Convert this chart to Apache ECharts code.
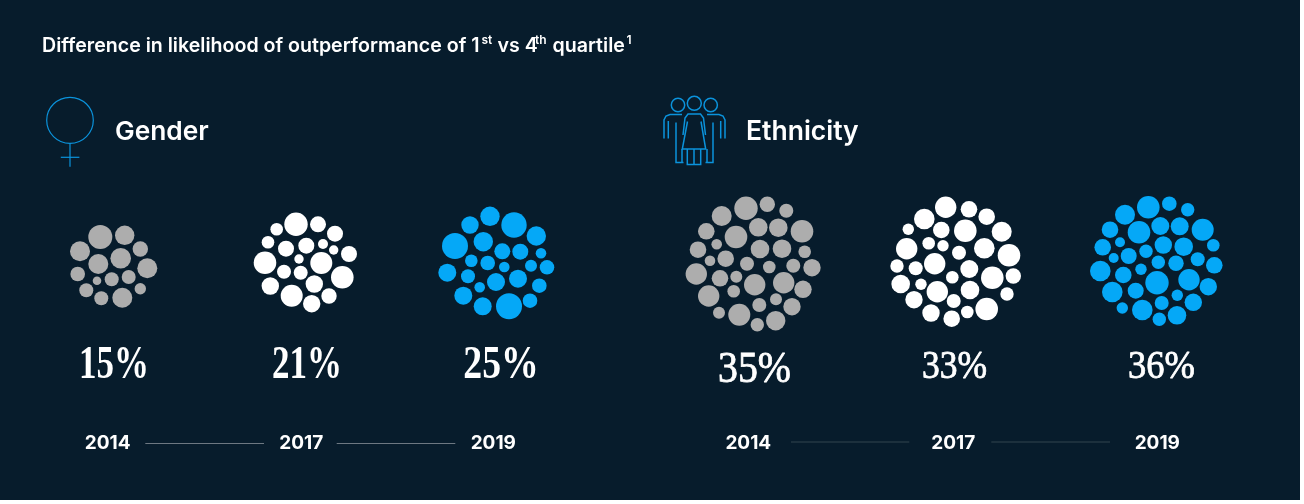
<!DOCTYPE html>
<html><head><meta charset="utf-8">
<style>html,body{margin:0;padding:0;background:#ffffff}#c{width:1300px;height:500px}</style>
<script src="https://cdn.jsdelivr.net/npm/echarts@6/dist/echarts.min.js"></script>
</head><body><div id="c"></div>
<script>
const years = ['2014','2017','2019'];
const genderPct = [15,21,25];
const ethnicityPct = [35,33,36];
// bubbles: [x, y, radius]
const gender2014 = [[100.3,237,12],[124.7,235.3,9.7],[80,251.3,10],[140.3,249,7.7],[98.3,264,10],[120.7,258.3,10.3],[147.3,268.3,10],[77.7,274,7.3],[97,280.7,4.3],[111.7,279.3,7],[128.7,277,7],[86.3,290.3,7],[140.3,288.7,5.7],[101.3,298.3,7],[122.3,297.7,10]];
const gender2017 = [[296,224.3,11.7],[318,224.3,8],[276.7,229.3,6.3],[335,233.7,8],[268,242.3,6.3],[286,248.7,8],[306.3,245.7,8],[323,244,5],[333.7,250,4.7],[349,254,8],[265,262.7,11.3],[299,259,4.7],[321.3,263,11],[284,271.7,7],[300.7,272.7,7],[342.3,277.3,11.3],[270.3,286,8.7],[314.3,284,8.7],[291.7,295.7,11],[329,296,7.7],[311.7,303.7,8.7]];
const gender2019 = [[490,216.3,9.7],[514,225,12.7],[470,225,8.7],[536.3,236,9.7],[455,246,13],[483.3,241.7,9.7],[502.3,251.3,8],[520.3,251.7,8],[541,253.3,5.3],[471.3,260.7,6.3],[487.7,263,7.3],[504.3,267,5.3],[531,265.7,6],[547,267.3,7.3],[447.3,272.7,9],[468,276.3,7],[496,282,9],[518,278.7,9],[479.7,287.3,5.3],[539.3,285.7,7.3],[463.3,295.7,9],[482.7,306.3,9],[509,306.3,13],[530,300.7,7.3]];
const ethnicity2014 = [[746,208.3,11.7],[767.3,204.3,7.7],[786.3,210.7,7],[721.7,216,10],[758.3,227.3,9.3],[778.3,227.7,9.3],[802,231.3,11.3],[706.3,231.3,8.3],[736,237,11.3],[716.7,244.3,5.3],[698,249.7,8.3],[760,249,9.3],[782,248.7,9.3],[804.7,251.7,6.3],[725.7,258.7,8.3],[710,260.7,5.3],[747,263.7,7],[769.3,267,6.3],[793.3,265.7,7],[812,267.7,8.7],[696.3,274,10.7],[720,278.3,8.3],[736.3,276.7,6],[754.7,284.7,10.7],[783.7,282.7,10.7],[803,289.3,8.7],[708.7,296,10.7],[733.7,291.3,6.3],[776,299.3,6],[759.3,305,7],[792,306.7,8.7],[719,312.7,6],[739.3,314.7,11],[757.3,324.7,6.7],[775.7,320.7,9.7]];
const ethnicity2017 = [[945.7,207.3,10.7],[969,209.3,8.3],[986.7,216.7,8.3],[924.3,219,10.3],[941.3,230,8.3],[965.3,230.7,11.3],[1001.7,231.7,10],[908.3,229.3,5.7],[928.7,243.3,6.3],[943,245.7,5.7],[906.7,248.7,10.7],[959,252.7,7],[984.3,248.3,10.3],[1009,255.3,11.3],[897,266,6.7],[915.7,268.3,7],[934.7,263.7,10.7],[969.3,269,9],[992.3,277.7,11.3],[1013.3,276,7.7],[952.3,277.3,6.3],[900.7,284,9.3],[921,284.3,5.7],[937.3,291.7,10.7],[970,290,9.3],[1007,294,6.7],[914,299.7,8.7],[953.7,301,7],[931,313,8.7],[967.3,312,6.3],[986.7,309,11.3],[951.7,318.7,8.3]];
const ethnicity2019 = [[1148.3,207.3,11.3],[1169.3,203.7,7.3],[1187.7,209.7,6.7],[1125,214.7,10],[1160.3,226,9],[1179.7,226.3,9],[1202.7,229.7,11],[1110,229.7,8.3],[1139,232.3,11.3],[1120,242.3,5],[1102.7,247.3,8.3],[1163.3,245,8.7],[1183.7,246.7,9.3],[1213.3,245.3,6.3],[1146,251.3,6.7],[1128.7,256,8],[1113.7,258,5],[1197.7,259.3,7],[1158.3,262.3,6.7],[1176,263.3,7.7],[1214.3,265.3,8.3],[1100.3,271,10.3],[1123.3,275,8.3],[1141,269.3,5.7],[1157,282.7,11.7],[1189,279.7,10.7],[1208.3,286.7,8.7],[1112.3,292,10.3],[1135.7,290.7,8],[1177.3,295.3,5.7],[1193.3,302.3,8.7],[1161.7,303,7],[1122.3,308,5.7],[1142.3,310,10.3],[1177,315.3,9.3],[1159.3,319.3,6.7]];

const GREY='#adadad', WHITE='#ffffff', BLUE='#05a8f7', BG='#071c2c', ICON='#0b93dc';
const SANS='Inter, "Liberation Sans", sans-serif', SERIF='"Liberation Serif", serif';

const clusters = [
  ['Gender 2014',gender2014,GREY],['Gender 2017',gender2017,WHITE],['Gender 2019',gender2019,BLUE],
  ['Ethnicity 2014',ethnicity2014,GREY],['Ethnicity 2017',ethnicity2017,WHITE],['Ethnicity 2019',ethnicity2019,BLUE]
];
const T=(text,x,y,size,opt={})=>({type:'text',x,y,scaleX:opt.sx||1,scaleY:opt.sy||1,silent:true,style:Object.assign({
  text,x:0,y:0,fill:opt.fill||WHITE,font:`${opt.weight||600} ${size}px ${opt.family||SANS}`,
  textAlign:opt.align||'left',textVerticalAlign:opt.va||'middle',textBaseline:opt.va||'middle'},
  opt.stroke?{stroke:WHITE,lineWidth:opt.stroke}:{})});
const L=(x1,x2,y,stroke)=>({type:'line',silent:true,shape:{x1,y1:y,x2,y2:y},style:{stroke,lineWidth:1}});
const iconStyle={fill:'none',stroke:ICON,lineWidth:1.2};
const thick={fill:'none',stroke:ICON,lineWidth:1.5};
const P=(points,style=thick)=>({type:'polyline',silent:true,shape:{points},style});
const C=(cx,cy,r)=>({type:'circle',silent:true,shape:{cx,cy,r},style:thick});

const pctLayout=[
  {x:114,y:366.5,size:46,sx:.76,w:700},{x:307,y:366.5,size:46,sx:.76,w:700},{x:501,y:366.5,size:46,sx:.82,w:700},
  {x:754.5,y:370.5,size:45,sx:.885,w:400,st:.8},{x:954.5,y:367,size:41,sx:.865,w:400,st:.8},{x:1161.5,y:367,size:41,sx:.89,w:400,st:.8}
];
const yearX=[107.7,301.3,493.3,748.3,953.3,1157.3];
const allPct=genderPct.concat(ethnicityPct);
const graphic=[
  T('Difference in likelihood of outperformance of 1',42,46,19.6),
  T('st',481.5,40,12),T('vs 4',497.5,46,19.6),T('th',535,40,12),T('quartile',552.5,46,19.6),T('1',626.5,40,12),
  T('Gender',115,132,26.3),T('Ethnicity',746,132,26.5),
  {type:'ellipse',silent:true,shape:{cx:70,cy:120.3,rx:23.3,ry:23},style:iconStyle},
  P([[70,143.3],[70,166.7]],iconStyle),P([[60.8,157.3],[79.4,157.3]],iconStyle),
  C(678,105,6.7),C(694.3,103.3,7),C(710.7,105,6.7),
  P([[682,114.5],[670,114.5],[666,116],[664,120],[664,138.5]]),P([[668.3,121],[668.3,138.5]]),
  P([[676,122.5],[676,162.5],[683.5,162.5]]),P([[682,162.5],[682,149]]),
  P([[707,114.5],[719,114.5],[723,116],[725,120],[725,138.5]]),P([[720.7,121],[720.7,138.5]]),
  P([[713,122.5],[713,162.5],[705.5,162.5]]),P([[707,162.5],[707,149]]),
  P([[683,135],[685,118],[688,114],[700.5,114],[703.5,118],[705.5,135]]),
  P([[687.5,121.5],[682.3,149],[705.7,149],[701,121.5]]),
  P([[687.3,149],[687.3,164.5],[700.7,164.5],[700.7,149]]),P([[694,149],[694,164.5]]),
  L(145.3,264,443.5,'#6d7882'),L(336.7,455.3,443.5,'#6d7882'),
  L(791,909.3,442,'#33454f'),L(991.3,1110,442,'#33454f')
];
allPct.forEach((v,i)=>{const p=pctLayout[i];
  graphic.push(T(v+'%',p.x,p.y,p.size,{family:SERIF,weight:p.w,align:'center',sx:p.sx,stroke:p.st}));
  graphic.push(T(years[i%3],yearX[i],443,19,{align:'center',weight:700}));
});

const chart=echarts.init(document.getElementById('c'),null,{renderer:'canvas'});
chart.setOption({
  animation:false,backgroundColor:BG,
  grid:{left:0,right:0,top:0,bottom:0},
  xAxis:{type:'value',min:0,max:1300,show:false},
  yAxis:{type:'value',min:0,max:500,inverse:true,show:false},
  tooltip:{show:false},
  series:clusters.map(([name,data,color])=>({name,type:'scatter',data,silent:true,
    symbol:'circle',symbolSize:v=>v[2]*2,itemStyle:{color,opacity:1}})),
  graphic
});
</script></body></html>
